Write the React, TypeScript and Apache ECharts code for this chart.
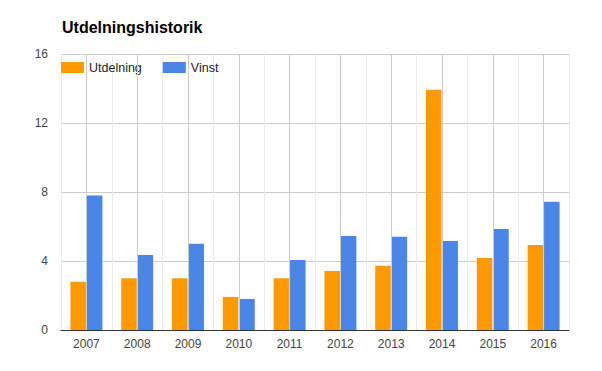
import React, { useEffect, useRef } from "react";
import * as echarts from "echarts";

const years = ["2007", "2008", "2009", "2010", "2011", "2012", "2013", "2014", "2015", "2016"];
const utdelning = [2.8, 3.0, 3.0, 1.92, 3.0, 3.42, 3.72, 13.93, 4.18, 4.93];
const vinst = [7.8, 4.35, 5.0, 1.8, 4.06, 5.45, 5.4, 5.16, 5.86, 7.43];
const seriesNames = ["Utdelning", "Vinst"];

const FONT = "Arial, 'Liberation Sans', sans-serif";

export default function App() {
  const ref = useRef<HTMLDivElement>(null);
  useEffect(() => {
    if (!ref.current) return;
    const chart = echarts.init(ref.current, null, { renderer: "svg" });
    chart.setOption({
      animation: false,
      backgroundColor: "#ffffff",
      textStyle: { fontFamily: FONT },
      title: {
        text: "Utdelningshistorik",
        left: 57,
        top: 14,
        textStyle: { fontFamily: FONT, fontSize: 16, fontWeight: "bold", color: "#000" },
      },
      legend: {
        data: seriesNames,
        left: 56,
        top: 56,
        itemWidth: 23,
        itemHeight: 11,
        itemGap: 21,
        icon: "rect",
        textStyle: { fontFamily: FONT, fontSize: 12.5, color: "#222" },
      },
      grid: { left: 61, right: 33, top: 54, bottom: 41, containLabel: false },
      xAxis: {
        type: "category",
        data: years,
        axisLine: { lineStyle: { color: "#333", width: 1 } },
        axisTick: { show: false },
        axisLabel: { color: "#444", fontSize: 12, fontFamily: FONT, margin: 8 },
        splitLine: { show: true, lineStyle: { color: "#ebebeb", width: 1 } },
      },
      yAxis: {
        type: "value",
        min: 0,
        max: 16,
        interval: 4,
        axisLine: { show: false },
        axisTick: { show: false },
        axisLabel: { color: "#444", fontSize: 12, fontFamily: FONT, margin: 13 },
        splitLine: { lineStyle: { color: "#cccccc", width: 1 } },
      },
      series: [
        {
          name: "_grid",
          type: "line",
          data: [],
          z: 1,
          silent: true,
          markLine: {
            silent: true,
            symbol: "none",
            label: { show: false },
            lineStyle: { color: "#cccccc", type: "solid", width: 1 },
            data: years.map((y) => ({ xAxis: y })),
          },
        },
        {
          name: seriesNames[0],
          type: "bar",
          data: utdelning,
          z: 3,
          barWidth: 15.5,
          barGap: "6%",
          itemStyle: { color: "#ff9900" },
        },
        {
          name: seriesNames[1],
          type: "bar",
          data: vinst,
          z: 3,
          barWidth: 15.5,
          barGap: "6%",
          itemStyle: { color: "#4a86e8" },
        },
      ],
    });
    return () => chart.dispose();
  }, []);
  return (
    <div
      ref={ref}
      style={{ position: "absolute", left: 0, top: 0, width: 602, height: 371 }}
    />
  );
}
